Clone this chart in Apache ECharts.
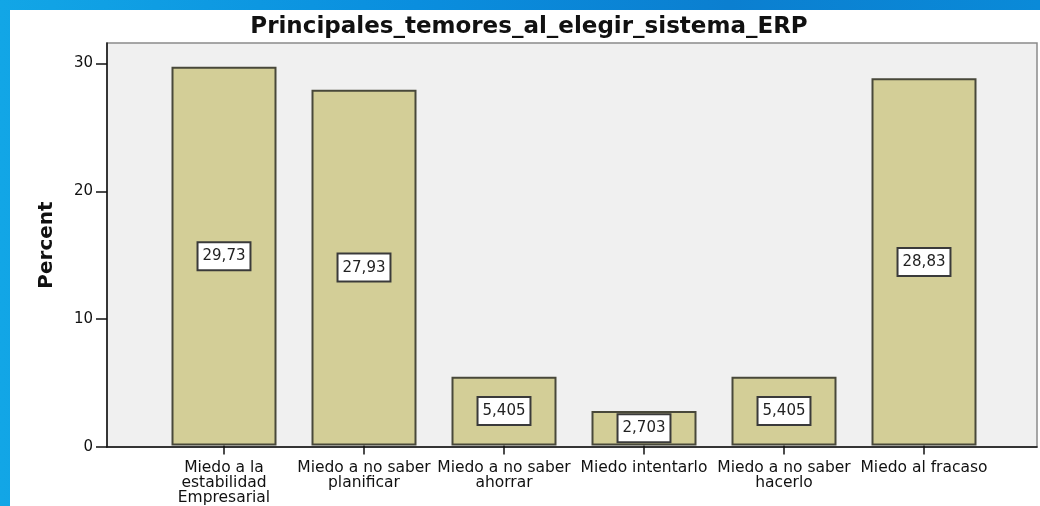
<!DOCTYPE html>
<html>
<head>
<meta charset="utf-8">
<script src="https://cdn.jsdelivr.net/npm/echarts@6/dist/echarts.min.js"></script>
<style>
    html, body { margin: 0; padding: 0; }
    body {
        width: 1040px; height: 506px; overflow: hidden; position: relative;
        background: linear-gradient(90deg, #12a6e6 0%, #0a8ede 40%, #0b7fd0 70%, #0a8ad8 100%);
    }
    #panel { position: absolute; left: 10px; top: 10px; width: 1030px; height: 496px; background: #fff; }
    #main { position: absolute; left: 0; top: 0; width: 1040px; height: 506px; }
</style>
</head>
<body>
<div id="panel"></div>
<div id="main"></div>
<script>
    // data
    var categories = [
        'Miedo a la\nestabilidad\nEmpresarial',
        'Miedo a no saber\nplanificar',
        'Miedo a no saber\nahorrar',
        'Miedo intentarlo',
        'Miedo a no saber\nhacerlo',
        'Miedo al fracaso'
    ];
    var percents = [29.73, 27.93, 5.405, 2.703, 5.405, 28.83];
    var yTicks = [0, 10, 20, 30];

    var font = 'DejaVu Sans';
    var yMax = 31.6;

    var myChart = echarts.init(document.getElementById('main'));

    var option = {
        animation: false,
        title: {
            text: 'Principales_temores_al_elegir_sistema_ERP',
            left: 524,
            textAlign: 'center',
            top: 11,
            textStyle: { fontFamily: font, fontSize: 23, fontWeight: 'bold', color: '#111' }
        },
        grid: [
            // frame of the plot
            { left: 107, right: 3, top: 43, bottom: 59, show: true, backgroundColor: '#f0f0f0', borderColor: '#8a8a8a', borderWidth: 1.5 },
            // bars sit in a narrower band, like SPSS does
            { left: 154, right: 46, top: 43, bottom: 59 }
        ],
        xAxis: [
            {
                gridIndex: 0, type: 'category', data: [''],
                axisLine: { lineStyle: { color: '#111', width: 1.5 } },
                axisTick: { show: false }, axisLabel: { show: false }
            },
            {
                gridIndex: 1, type: 'category', data: categories,
                axisLine: { show: false },
                axisTick: { show: true, alignWithLabel: true, length: 9, lineStyle: { color: '#111', width: 1.5 } },
                axisLabel: {
                    interval: 0, margin: 15,
                    fontFamily: font, fontSize: 15.5, lineHeight: 15, color: '#111'
                }
            }
        ],
        yAxis: [
            {
                gridIndex: 0, type: 'value', min: 0, max: yMax,
                name: 'Percent', nameLocation: 'middle', nameGap: 50, nameRotate: 90,
                nameTextStyle: { fontFamily: font, fontSize: 20, fontWeight: 'bold', color: '#111' },
                splitLine: { show: false },
                axisLine: { show: true, lineStyle: { color: '#111', width: 1.5 } },
                axisTick: { show: true, length: 11, customValues: yTicks, lineStyle: { color: '#111', width: 1.5 } },
                axisLabel: { customValues: yTicks, margin: 14, fontFamily: font, fontSize: 15, color: '#111' }
            },
            {
                gridIndex: 1, type: 'value', min: 0, max: yMax, show: false,
                splitLine: { show: false }
            }
        ],
        series: [
            {
                name: 'Percent',
                type: 'bar',
                xAxisIndex: 1,
                yAxisIndex: 1,
                data: percents,
                barWidth: '75%',
                itemStyle: { color: '#d3ce97', borderColor: '#48483a', borderWidth: 2 },
                label: {
                    show: true,
                    position: 'inside',
                    formatter: function (p) { return String(p.value).replace('.', ','); },
                    fontFamily: font, fontSize: 15, lineHeight: 18, color: '#222',
                    backgroundColor: '#fff', borderColor: '#3a3a3a', borderWidth: 2,
                    padding: [4, 4]
                }
            }
        ]
    };

    myChart.setOption(option);
</script>
</body>
</html>
